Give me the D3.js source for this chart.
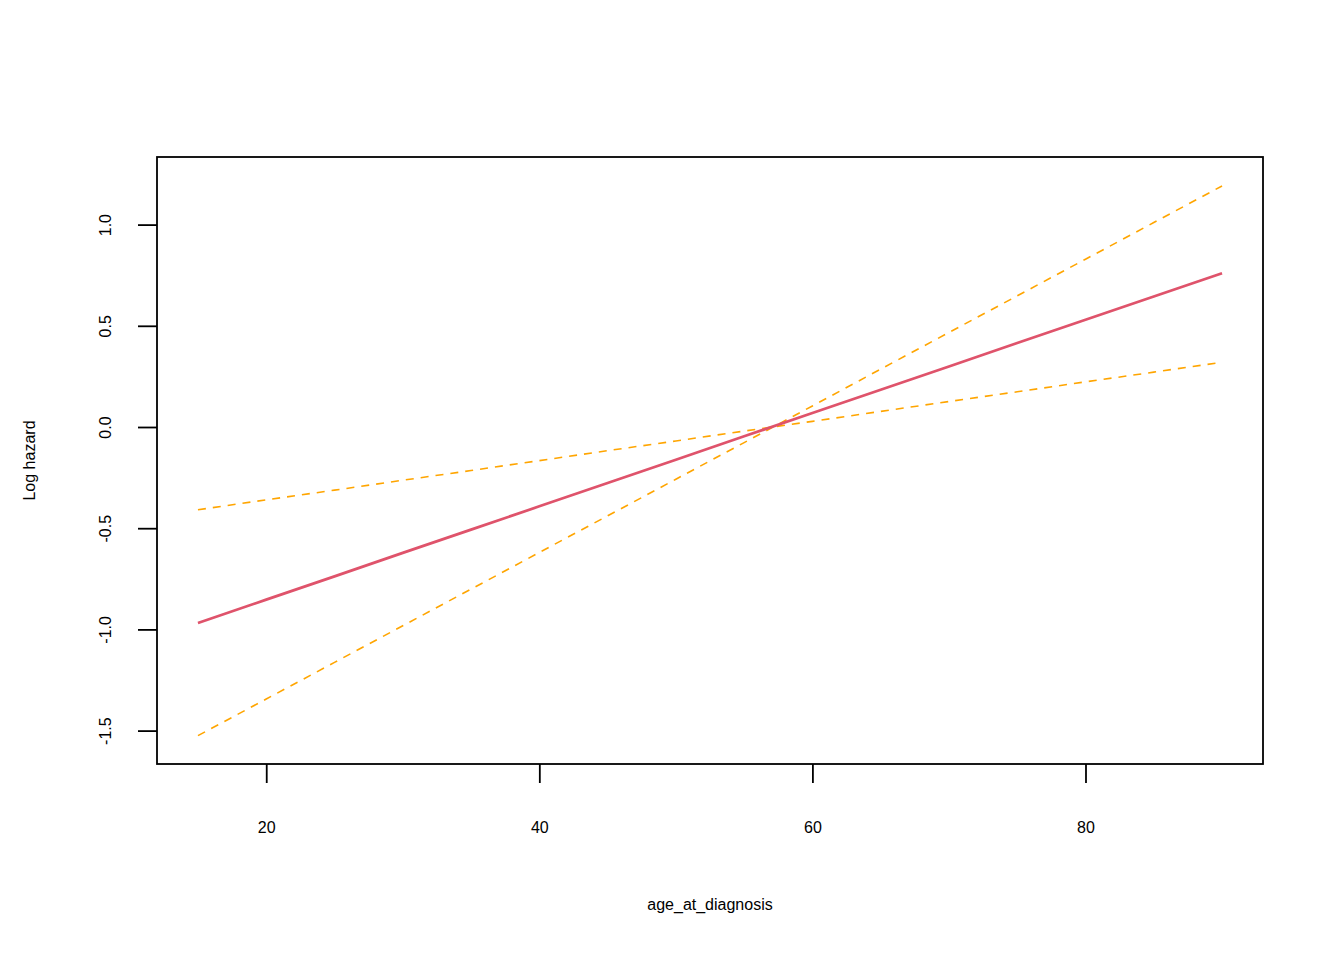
<!DOCTYPE html>
<html>
<head>
<meta charset="utf-8">
<script src="https://cdn.jsdelivr.net/npm/d3@7"></script>
<style>
html,body{margin:0;padding:0;background:#fff;}
svg text{font-family:"Liberation Sans",Arial,sans-serif;font-size:16px;fill:#000;}
</style>
</head>
<body>
<svg id="chart" width="1344" height="960"></svg>
<script>
const ages = [15,20,25,30,35,40,45,50,55,60,65,70,75,80,85,90];
const fitValues = [-0.968,-0.853,-0.738,-0.622,-0.507,-0.392,-0.277,-0.162,-0.046,0.069,0.184,0.299,0.415,0.530,0.645,0.760];
const bandA = [-0.409,-0.360,-0.312,-0.263,-0.215,-0.166,-0.117,-0.069,-0.020,0.028,0.077,0.126,0.174,0.223,0.271,0.320];
const bandB = [-1.525,-1.344,-1.163,-0.982,-0.801,-0.620,-0.439,-0.258,-0.077,0.104,0.286,0.467,0.648,0.829,1.010,1.191];
const xTicks = [20,40,60,80];
const yTicks = [-1.5,-1.0,-0.5,0.0,0.5,1.0];
const yLimits = [-1.665, 1.334];
const xTitle = "age_at_diagnosis";
const yTitle = "Log hazard";

const svg = d3.select("#chart");
const L = 157, R = 1263, T = 157, B = 764;

const xmin = d3.min(ages), xmax = d3.max(ages);
const xpad = (xmax - xmin) * 0.04;
const x = d3.scaleLinear().domain([xmin - xpad, xmax + xpad]).range([L, R]);
const y = d3.scaleLinear().domain(yLimits).range([B, T]);

const line = d3.line().x(d => x(d[0])).y(d => y(d[1]));
const mk = arr => ages.map((a, i) => [a, arr[i]]);

svg.append("path").datum(mk(bandA)).attr("d", line)
  .attr("fill", "none").attr("stroke", "#FFA500").attr("stroke-width", 1.6).attr("stroke-dasharray", "8,7");
svg.append("path").datum(mk(bandB)).attr("d", line)
  .attr("fill", "none").attr("stroke", "#FFA500").attr("stroke-width", 1.6).attr("stroke-dasharray", "8,7");
svg.append("path").datum(mk(fitValues)).attr("d", line)
  .attr("fill", "none").attr("stroke", "#DF536B").attr("stroke-width", 2.7);

// box
svg.append("rect").attr("x", L).attr("y", T).attr("width", R - L).attr("height", B - T)
  .attr("fill", "none").attr("stroke", "#000").attr("stroke-width", 1.8);

const fmtY = d => d3.format(".1f")(d).replace("\u2212", "-");

// x axis
const xAxis = svg.append("g").attr("transform", `translate(0,${B})`)
  .call(d3.axisBottom(x).tickValues(xTicks).tickSize(19).tickPadding(39).tickFormat(d3.format("d")));
xAxis.select(".domain").remove();
xAxis.selectAll(".tick line").attr("stroke", "#000").attr("stroke-width", 1.8);
xAxis.selectAll("text").attr("font-size", 16).attr("font-family", "Liberation Sans, Arial, sans-serif");

// y axis
const yAxis = svg.append("g").attr("transform", `translate(${L},0)`)
  .call(d3.axisLeft(y).tickValues(yTicks).tickSize(19).tickFormat(fmtY));
yAxis.select(".domain").remove();
yAxis.selectAll(".tick line").attr("stroke", "#000").attr("stroke-width", 1.8);
yAxis.selectAll(".tick text")
  .attr("x", 0).attr("dy", null).attr("y", 0)
  .attr("text-anchor", "middle")
  .attr("dominant-baseline", "central")
  .attr("transform", "translate(-52,0) rotate(-90)")
  .attr("font-size", 16).attr("font-family", "Liberation Sans, Arial, sans-serif");

// titles
svg.append("text").attr("x", (L + R) / 2).attr("y", 910).attr("text-anchor", "middle").text(xTitle);
svg.append("text").attr("transform", `translate(35,${(T + B) / 2}) rotate(-90)`)
  .attr("text-anchor", "middle").text(yTitle);
</script>
</body>
</html>
